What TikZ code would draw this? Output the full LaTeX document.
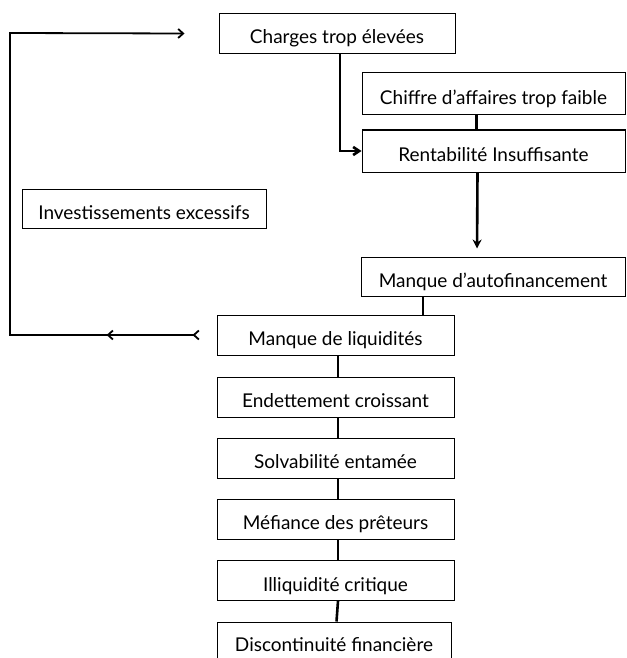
\documentclass[tikz,border=0pt]{standalone}
\usepackage{fontspec}
\setmainfont{Lato}
\usetikzlibrary{arrows.meta,decorations.markings}
\tikzstyle{bx} = [rectangle,
                  draw=black,
                  line width=1pt,
                  inner sep=0pt,
                  font=\fontsize{19}{22}\selectfont,
                  text centered,
                  text height=21pt,
                  text depth=0pt,
                  minimum height=40pt]
\tikzstyle{lien} = [line width=2.6pt]
\tikzstyle{retour} = [line width=1.8pt,
                      postaction={decorate},
                      decoration={markings,
                        mark=at position 0.003 with {\arrow{Straight Barb[length=5pt,width=9pt]}},
                        mark=at position 0.133 with {\arrow{Straight Barb[length=5pt,width=9pt]}}}]

\begin{document}
\begin{tikzpicture}[x=1pt,y=-1pt]
     \useasboundingbox (0,0) rectangle (626,658);
     \node [bx, minimum width=236pt] (charges) at (337,33.5) {Charges trop élevées};
     \node [bx, minimum width=263pt, minimum height=42pt] (chiffre) at (493.5,94) {Chiffre d’affaires trop faible};
     \node [bx, minimum width=263pt, minimum height=42pt] (renta) at (493.5,151) {Rentabilité Insuffisante};
     \node [bx, minimum width=244pt, minimum height=39pt] (invest) at (144,208.5) {Investissements excessifs};
     \node [bx, minimum width=264pt, minimum height=39pt] (autofin) at (493,276.5) {Manque d’autofinancement};
     \node [bx, minimum width=237pt] (liquid) at (335.5,335) {Manque de liquidités};
     \node [bx, minimum width=237pt] (endet) at (335.5,397) {Endettement croissant};
     \node [bx, minimum width=237pt] (solva) at (335.5,458) {Solvabilité entamée};
     \node [bx, minimum width=237pt] (mefi) at (335.5,519) {Méfiance des prêteurs};
     \node [bx, minimum width=237pt] (illiq) at (335.5,580.5) {Illiquidité critique};
     \node [bx, minimum width=234pt, minimum height=38pt] (disc) at (334,641) {Discontinuité financière};
     \coordinate (coin) at (10,33);

     \draw [lien, -{Straight Barb[open,length=6pt,width=8pt]}] ([xshift=3]charges.south) |- (renta.west);
     \draw [lien] ([xshift=-17]chiffre.south) -- ([xshift=-17]renta.north);
     \draw [lien, -{Stealth[length=9pt,width=9pt]}, shorten >=8pt] ([xshift=-16]renta.south) -- ([xshift=-16]autofin.north);
     \draw [lien] ([xshift=-70]autofin.south) -- ([xshift=-70]autofin.south |- liquid.north);
     \foreach \a/\b in {liquid/endet, endet/solva, solva/mefi, mefi/illiq, illiq/disc}
          \draw [lien] ([xshift=2.5]\a.south) -- ([xshift=2.5]\b.north);
     % boucle de retour vers les charges
     \draw [retour, -{Straight Barb[length=5pt,width=9pt]}] ([xshift=-22]liquid.west) -- (liquid.west -| coin) -- (coin) -- ([xshift=-34]charges.west);
\end{tikzpicture}
\end{document}
